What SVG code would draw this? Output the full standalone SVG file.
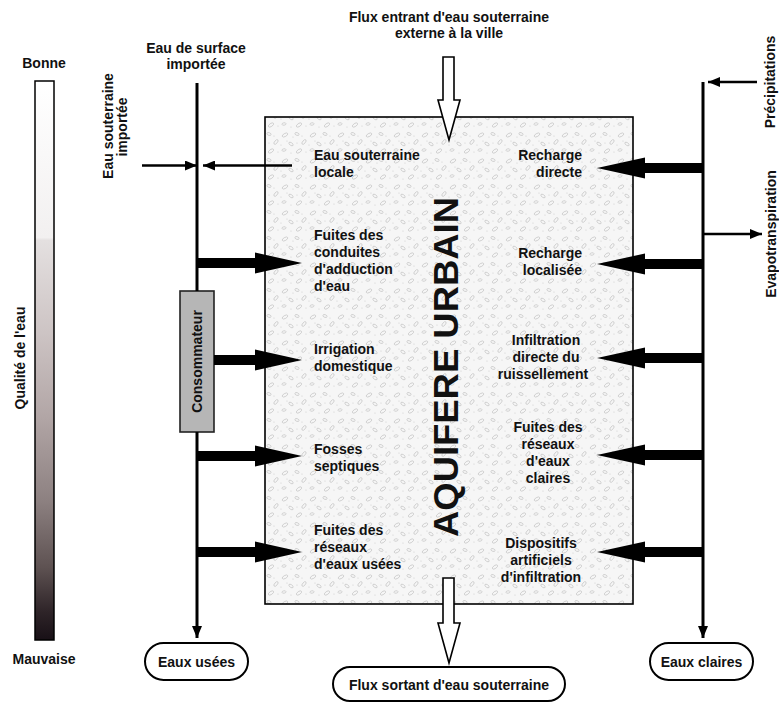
<svg xmlns="http://www.w3.org/2000/svg" width="779" height="702" viewBox="0 0 779 702">
  <style>
    text { font-family: "Liberation Sans", Arial, sans-serif; font-weight: bold; font-size: 14px; fill: #111; }
    .mid { text-anchor: middle; }
    .end { text-anchor: end; }
    .line { stroke: #000; stroke-width: 3; fill: none; }
    .thin { stroke: #000; stroke-width: 2.5; fill: none; }
    .block { fill: #000; }
    .hollow { fill: #fff; stroke: #000; stroke-width: 1.6; stroke-linejoin: miter; }
    .pill { fill: #fff; stroke: #000; stroke-width: 2; }
  </style>
  <defs>
    <linearGradient id="quality" gradientUnits="userSpaceOnUse" x1="0" y1="81" x2="0" y2="640">
      <stop offset="0" stop-color="#ffffff"/>
      <stop offset="0.28" stop-color="#f2f0f0"/>
      <stop offset="0.285" stop-color="#e4e0e0"/>
      <stop offset="0.45" stop-color="#cdc4c4"/>
      <stop offset="0.6" stop-color="#b2a6a6"/>
      <stop offset="0.75" stop-color="#8d8181"/>
      <stop offset="0.87" stop-color="#5e5252"/>
      <stop offset="0.95" stop-color="#2e2428"/>
      <stop offset="1" stop-color="#181016"/>
    </linearGradient>
    <!-- gravel texture of the aquifer -->
    <pattern id="gravel" patternUnits="userSpaceOnUse" width="28" height="26">
      <rect width="28" height="26" fill="#f6f6f6"/>
      <g fill="none" stroke="#c4c4c4" stroke-width="0.7">
        <ellipse cx="5" cy="5" rx="3" ry="1.5" transform="rotate(-30 5 5)"/>
        <ellipse cx="17" cy="4" rx="2.2" ry="1.3" transform="rotate(20 17 4)"/>
        <ellipse cx="24" cy="12" rx="2.8" ry="1.4" transform="rotate(-50 24 12)"/>
        <ellipse cx="11" cy="14" rx="2.5" ry="1.3" transform="rotate(35 11 14)"/>
        <ellipse cx="4" cy="20" rx="2" ry="1.2" transform="rotate(-10 4 20)"/>
        <ellipse cx="19" cy="21" rx="3" ry="1.5" transform="rotate(-35 19 21)"/>
      </g>
      <g fill="#cfcfcf">
        <circle cx="13" cy="7" r="0.6"/>
        <circle cx="22" cy="6" r="0.6"/>
        <circle cx="7" cy="11" r="0.6"/>
        <circle cx="17" cy="13" r="0.6"/>
        <circle cx="26" cy="22" r="0.6"/>
        <circle cx="11" cy="23" r="0.6"/>
        <circle cx="1" cy="15" r="0.6"/>
      </g>
    </pattern>
    <marker id="tip" viewBox="0 0 12 10" refX="12" refY="5" markerWidth="12" markerHeight="10" markerUnits="userSpaceOnUse" orient="auto">
      <path d="M0,0 L12,5 L0,10 Z" fill="#000"/>
    </marker>
  </defs>

  <rect width="779" height="702" fill="#fff"/>

  <!-- water quality scale -->
  <g id="quality-scale">
    <rect x="35" y="81" width="19" height="559" fill="url(#quality)" stroke="#000" stroke-width="1.5"/>
    <text class="mid" x="44" y="68">Bonne</text>
    <text class="mid" x="44" y="664">Mauvaise</text>
    <text class="mid" transform="translate(25 358) rotate(-90)">Qualité de l'eau</text>
  </g>

  <!-- urban aquifer -->
  <g id="aquifer">
    <rect x="265" y="117" width="368" height="487" fill="url(#gravel)" stroke="#000" stroke-width="1.6"/>
    <text class="mid" transform="translate(458 367) rotate(-90)" style="font-size:35px" textLength="340" lengthAdjust="spacingAndGlyphs">AQUIFERE URBAIN</text>
  </g>

  <g id="consumer">
    <rect x="180" y="291" width="34" height="141" fill="#b6b6b6" stroke="#222" stroke-width="1.6"/>
    <text class="mid" transform="translate(202 361.5) rotate(-90)">Consommateur</text>
  </g>

  <g id="wastewater">
    <rect class="pill" x="145" y="643" width="103" height="37" rx="18.5"/>
    <text class="mid" x="196.5" y="667">Eaux usées</text>
  </g>

  <g id="stormwater">
    <rect class="pill" x="650" y="643" width="103" height="37" rx="18.5"/>
    <text class="mid" x="701.5" y="667">Eaux claires</text>
  </g>

  <g id="outflow">
    <rect class="pill" x="333" y="667" width="232" height="34" rx="17"/>
    <text class="mid" x="449" y="690">Flux sortant d'eau souterraine</text>
  </g>

  <!-- labels -->
  <g id="labels">
    <text class="mid" x="449" y="22">Flux entrant d'eau souterraine</text>
    <text class="mid" x="449" y="38">externe à la ville</text>
    <text class="mid" x="196" y="53">Eau de surface</text>
    <text class="mid" x="196" y="69">importée</text>
    <text class="mid" transform="translate(113 126) rotate(-90)">Eau souterraine</text>
    <text class="mid" transform="translate(127 127) rotate(-90)">importée</text>
    <text class="mid" transform="translate(775 82) rotate(-90)">Précipitations</text>
    <text class="mid" transform="translate(775.5 234) rotate(-90)">Evapotranspiration</text>

    <g id="inputs-left">
      <text x="314" y="160">Eau souterraine</text>
      <text x="314" y="177">locale</text>
      <text x="314" y="240">Fuites des</text>
      <text x="314" y="257">conduites</text>
      <text x="314" y="274">d'adduction</text>
      <text x="314" y="291">d'eau</text>
      <text x="314" y="354">Irrigation</text>
      <text x="314" y="371">domestique</text>
      <text x="314" y="454">Fosses</text>
      <text x="314" y="471">septiques</text>
      <text x="314" y="535">Fuites des</text>
      <text x="314" y="552">réseaux</text>
      <text x="314" y="569">d'eaux usées</text>
    </g>

    <g id="inputs-right">
      <text class="end" x="582" y="160">Recharge</text>
      <text class="end" x="582" y="177">directe</text>
      <text class="end" x="582" y="258">Recharge</text>
      <text class="end" x="582" y="275">localisée</text>
      <text class="mid" x="546" y="345">Infiltration</text>
      <text class="mid" x="546" y="362">directe du</text>
      <text class="mid" x="543" y="379">ruissellement</text>
      <text class="mid" x="548" y="432">Fuites des</text>
      <text class="mid" x="548" y="449">réseaux</text>
      <text class="mid" x="548" y="466">d'eaux</text>
      <text class="mid" x="548" y="483">claires</text>
      <text class="mid" x="541" y="548">Dispositifs</text>
      <text class="mid" x="541" y="565">artificiels</text>
      <text class="mid" x="541" y="582">d'infiltration</text>
    </g>
  </g>

  <!-- connectors -->
  <g id="connectors">
    <!-- imported surface water main -->
    <path class="line" d="M197,83 V291"/>
    <path class="line" d="M197,432 V638" marker-end="url(#tip)"/>
    <!-- imported groundwater, local groundwater -->
    <path class="thin" d="M142,165.5 H197" marker-end="url(#tip)"/>
    <path class="thin" d="M292,165.5 H203" marker-end="url(#tip)"/>

    <!-- clear-water main with precipitation and evapotranspiration -->
    <path class="line" d="M703,82 V638" marker-end="url(#tip)"/>
    <path class="thin" d="M757,82 H708" marker-end="url(#tip)"/>
    <path class="thin" d="M703,234 H762" marker-end="url(#tip)"/>

    <!-- leakage arrows into the aquifer (left) -->
    <polygon class="block" points="197,258 255,258 255,252.5 302,263 255,273.5 255,268 197,268"/>
    <polygon class="block" points="214,355 255,355 255,349.5 302,360 255,370.5 255,365 214,365"/>
    <polygon class="block" points="197,451 255,451 255,445.5 302,456 255,466.5 255,461 197,461"/>
    <polygon class="block" points="197,547 255,547 255,541.5 302,552 255,562.5 255,557 197,557"/>

    <!-- recharge arrows into the aquifer (right) -->
    <polygon class="block" points="703,163 645,163 645,157.5 597,168 645,178.5 645,173 703,173"/>
    <polygon class="block" points="703,259 645,259 645,253.5 597,264 645,274.5 645,269 703,269"/>
    <polygon class="block" points="703,353 645,353 645,347.5 597,358 645,368.5 645,363 703,363"/>
    <polygon class="block" points="703,450 645,450 645,444.5 597,455 645,465.5 645,460 703,460"/>
    <polygon class="block" points="703,547 645,547 645,541.5 597,552 645,562.5 645,557 703,557"/>

    <!-- groundwater inflow and outflow -->
    <polygon class="hollow" points="443,57 454,57 454,100 460,100 449,140 438,100 443,100"/>
    <polygon class="hollow" points="443,578 454,578 454,623 460,623 449,663 438,623 443,623"/>
  </g>
</svg>
